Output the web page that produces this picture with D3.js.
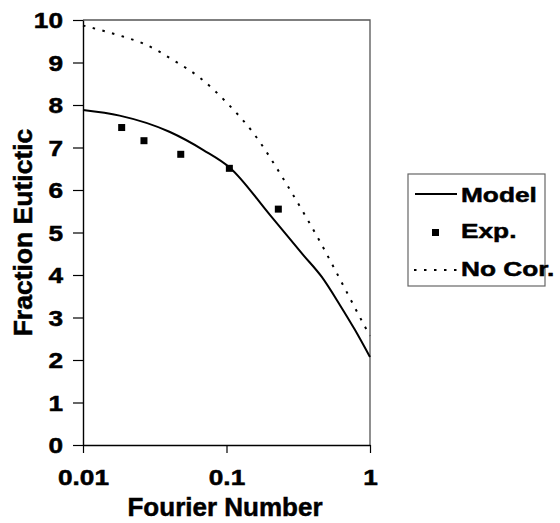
<!DOCTYPE html>
<html>
<head>
<meta charset="utf-8">
<script src="https://cdn.jsdelivr.net/npm/d3@7"></script>
<style>
  body { margin: 0; background: #fff; }
  svg { display: block; font-family: "Liberation Sans", Arial, sans-serif; font-weight: bold; }
  svg text { stroke: #000; stroke-width: 0.5px; }
</style>
</head>
<body>
<svg id="chart" width="560" height="523"></svg>
<script>
// values
const modelX = [0.01, 0.018, 0.04, 0.069, 0.106, 0.2, 0.343, 0.46, 0.618, 0.785, 1];
const modelY = [7.88, 7.75, 7.37, 6.94, 6.52, 5.42, 4.47, 3.96, 3.29, 2.71, 2.07];

const expX = [0.0186, 0.0266, 0.048, 0.1047, 0.2297];
const expY = [7.47, 7.16, 6.84, 6.51, 5.55];

const noCorX = [0.01, 0.019, 0.0262, 0.0424, 0.0653, 0.1007, 0.153, 0.262, 0.352, 0.449, 0.555, 0.726, 0.948, 1];
const noCorY = [9.87, 9.61, 9.45, 9.06, 8.64, 8.05, 7.35, 6.14, 5.41, 4.78, 4.20, 3.45, 2.71, 2.57];

const xTicks = [0.01, 0.1, 1];
const xTickLabels = ["0.01", "0.1", "1"];
const yTicks = [0, 1, 2, 3, 4, 5, 6, 7, 8, 9, 10];

const legendItems = ["Model", "Exp.", "No Cor."];

const plotL = 83, plotR = 370, plotT = 20, plotB = 445;
const stretch = 1.22; // the scanned labels are wider than tall

const svg = d3.select("#chart");

const xScale = d3.scaleLog()
  .domain([0.01, 1])
  .range([plotL, plotR]);

const yScale = d3.scaleLinear()
  .domain([0, 10])
  .range([plotB, plotT]);

// plot frame (top and right sides)
svg.append("path")
  .attr("d", `M${plotL},${plotT}H${plotR}V${plotB}`)
  .attr("fill", "none")
  .attr("stroke", "#555")
  .attr("stroke-width", 1.3);

// Y axis
const yAxis = d3.axisLeft(yScale)
  .tickValues(yTicks)
  .tickFormat(d3.format("d"))
  .tickSize(10)
  .tickSizeOuter(0);

const gy = svg.append("g")
  .attr("transform", `translate(${plotL},0)`)
  .call(yAxis);

gy.select(".domain").attr("stroke", "#000").attr("stroke-width", 1.4);
gy.selectAll(".tick line").attr("stroke", "#000").attr("stroke-width", 1.2);
gy.selectAll(".tick text")
  .attr("x", null)
  .attr("dy", null)
  .attr("transform", `translate(-20,7.5) scale(${stretch},1)`)
  .attr("text-anchor", "end")
  .attr("fill", "#000")
  .style("font-size", "21.5px")
  .style("font-family", "'Liberation Sans', Arial, sans-serif")
  .style("font-weight", "bold");

// X axis
const xAxis = d3.axisBottom(xScale)
  .tickValues(xTicks)
  .tickFormat((d, i) => xTickLabels[i])
  .tickSize(8)
  .tickSizeOuter(0);

const gx = svg.append("g")
  .attr("transform", `translate(0,${plotB})`)
  .call(xAxis);

gx.select(".domain").attr("stroke", "#000").attr("stroke-width", 1.4);
gx.selectAll(".tick line").attr("stroke", "#000").attr("stroke-width", 1.2);
gx.selectAll(".tick text")
  .attr("y", null)
  .attr("dy", null)
  .attr("transform", `translate(0,40) scale(${stretch},1)`)
  .attr("text-anchor", "middle")
  .attr("fill", "#000")
  .style("font-size", "21.5px")
  .style("font-family", "'Liberation Sans', Arial, sans-serif")
  .style("font-weight", "bold");

// axis titles
svg.append("text")
  .attr("x", 225)
  .attr("y", 516)
  .attr("text-anchor", "middle")
  .style("font-size", "26px")
  .text("Fourier Number");

svg.append("text")
  .attr("transform", "translate(32,232.5) rotate(-90)")
  .attr("text-anchor", "middle")
  .style("font-size", "26.5px")
  .text("Fraction Eutictic");

// series
const line = d3.line()
  .x(d => xScale(d[0]))
  .y(d => yScale(d[1]))
  .curve(d3.curveMonotoneX);

svg.append("path")
  .datum(d3.zip(noCorX, noCorY))
  .attr("d", line)
  .attr("fill", "none")
  .attr("stroke", "#000")
  .attr("stroke-width", 2)
  .attr("stroke-dasharray", "2.5,7.5");

svg.append("path")
  .datum(d3.zip(modelX, modelY))
  .attr("d", line)
  .attr("fill", "none")
  .attr("stroke", "#000")
  .attr("stroke-width", 2);

svg.selectAll("rect.exp")
  .data(d3.zip(expX, expY))
  .enter()
  .append("rect")
  .attr("class", "exp")
  .attr("x", d => xScale(d[0]) - 3.5)
  .attr("y", d => yScale(d[1]) - 3.5)
  .attr("width", 7)
  .attr("height", 7)
  .attr("fill", "#000");

// legend
const legend = svg.append("g").attr("transform", "translate(408,174)");

legend.append("rect")
  .attr("width", 137)
  .attr("height", 112)
  .attr("fill", "#fff")
  .attr("stroke", "#666")
  .attr("stroke-width", 1.2);

const rowY = [28, 64, 102];

legend.append("line")
  .attr("x1", 7).attr("x2", 49)
  .attr("y1", rowY[0] - 8).attr("y2", rowY[0] - 8)
  .attr("stroke", "#000").attr("stroke-width", 2);

legend.append("rect")
  .attr("x", 24).attr("y", rowY[1] - 9)
  .attr("width", 7).attr("height", 7)
  .attr("fill", "#000");

legend.append("line")
  .attr("x1", 6).attr("x2", 49)
  .attr("y1", rowY[2] - 6).attr("y2", rowY[2] - 6)
  .attr("stroke", "#000").attr("stroke-width", 2)
  .attr("stroke-dasharray", "2.5,7.5");

legend.selectAll("text.item")
  .data(legendItems)
  .enter()
  .append("text")
  .attr("class", "item")
  .attr("transform", (d, i) => `translate(53,${rowY[i]}) scale(1.25,1)`)
  .style("font-size", "21px")
  .text(d => d);
</script>
</body>
</html>
